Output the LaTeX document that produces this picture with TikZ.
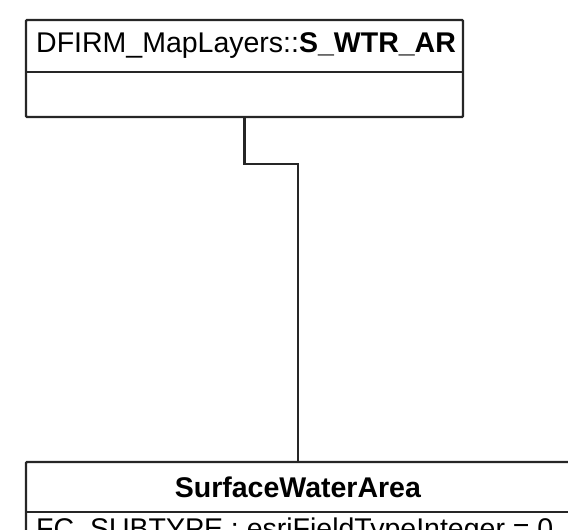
\documentclass[tikz,border=0pt]{standalone}
\usepackage{fontspec}
\setmainfont{Liberation Sans}
\begin{document}
\begin{tikzpicture}[x=1pt,y=1pt,
  classbox/.style={draw=black!85, line width=2.3pt, rounded corners=1pt, inner sep=0pt, fill=white},
  label/.style={inner sep=0pt, font=\fontsize{28.5}{32}\selectfont},
  conn/.style={draw=black!85, line width=2.3pt}]
\useasboundingbox (0,0) rectangle (568,-530);
% top class
\node[classbox, minimum width=437pt, minimum height=97pt] (top) at (244.5,-68.5) {};
\node[label, anchor=west] (topname) at (36,-46) {DFIRM\_MapLayers::\textbf{S\_WTR\_AR}};
\coordinate (tdl) at (26,-72);
\coordinate (tdr) at (463,-72);
\draw[conn] (tdl) -- (tdr);
% bottom class
\node[classbox, minimum width=544pt, minimum height=130pt] (bot) at (298,-527) {};
\node[label] (botname) at (298,-487) {\textbf{SurfaceWaterArea}};
\coordinate (bdl) at (26,-512);
\coordinate (bdr) at (570,-512);
\draw[conn] (bdl) -- (bdr);
\node[label, anchor=base west] (attr) at (36,-538) {FC\_SUBTYPE : esriFieldTypeInteger = 0};
% connector
\draw[conn] (top.south) -- ++(0,-46) -| (bot.north);
\end{tikzpicture}
\end{document}
